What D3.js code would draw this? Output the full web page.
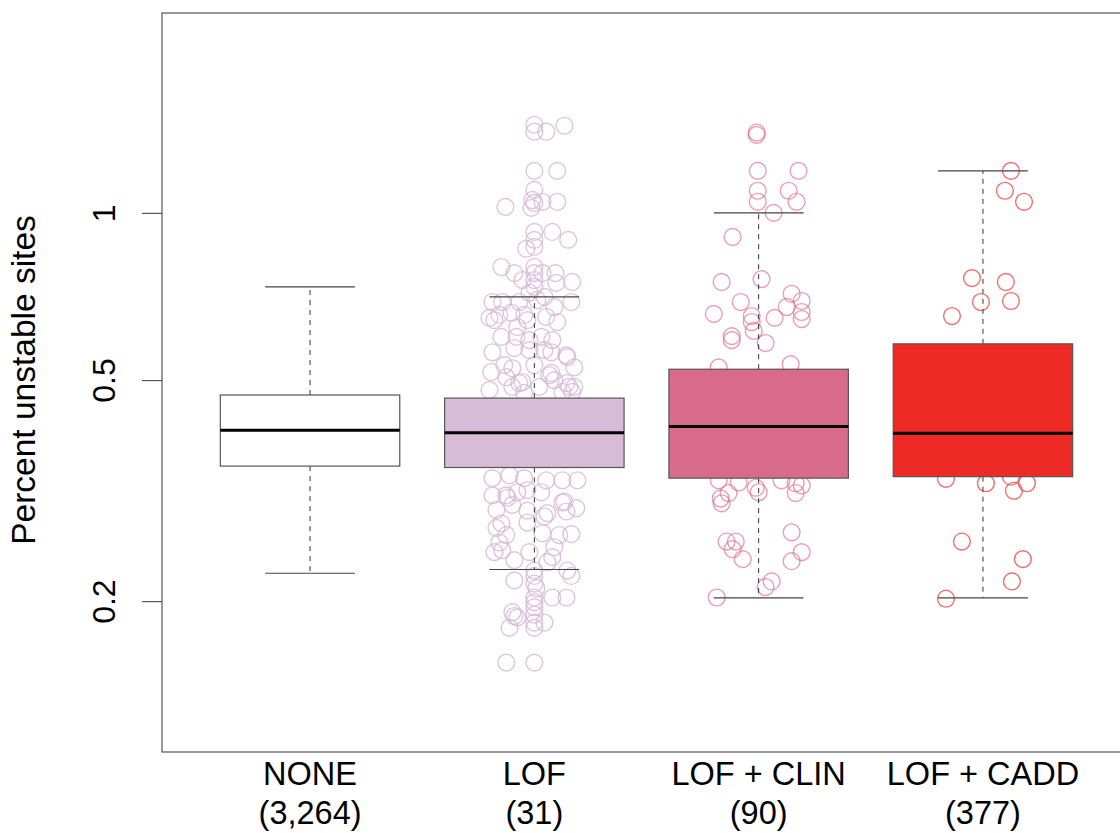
<!DOCTYPE html>
<html>
<head>
<meta charset="utf-8">
<script src="https://cdn.jsdelivr.net/npm/d3@7"></script>
<style>
  html, body { margin: 0; padding: 0; background: #fff; }
  svg { display: block; font-family: "Liberation Sans", Arial, Helvetica, sans-serif; }
</style>
</head>
<body>
<svg id="chart" width="1120" height="833"></svg>
<script>
// Groups and their sizes
const categories = ["NONE", "LOF", "LOF + CLIN", "LOF + CADD"];
const counts = ["(3,264)", "(31)", "(90)", "(377)"];

// Box summaries (percent unstable sites)
const whiskerLow  = [0.2245, 0.228, 0.2027, 0.2027];
const q1          = [0.350, 0.348, 0.333, 0.335];
const median      = [0.406, 0.402, 0.4126, 0.401];
const q3          = [0.470, 0.464, 0.523, 0.581];
const whiskerHigh = [0.736, 0.706, 1.0, 1.19];

// Y axis ticks and limits
const yTicks = [0.2, 0.5, 1];
const yLimits = [0.107, 2.29];

// Individual genes: [value, horizontal jitter in group units]
const lofPoints = [
  [1.441, 0], [1.400, 0], [1.400, 0.053], [1.435, 0.134],
  [1.190, 0], [1.190, 0.102], [1.100, 0],
  [1.025, -0.129], [1.021, -0.013], [1.042, 0], [1.047, 0.036], [1.047, 0.102], [1.055, -0.009],
  [0.924, 0], [0.924, 0.080], [0.894, 0.151], [0.894, 0], [0.862, -0.036], [0.869, 0],
  [0.799, -0.147], [0.779, -0.089], [0.799, 0], [0.779, 0], [0.779, 0.036], [0.779, 0.094],
  [0.757, -0.053], [0.757, 0], [0.748, 0.098], [0.751, 0.169], [0.736, 0], [0.718, -0.022],
  [0.691, -0.187], [0.691, -0.143], [0.691, -0.067], [0.697, 0.013], [0.706, 0.045], [0.691, 0.165],
  [0.677, 0.089], [0.647, -0.200], [0.655, -0.156], [0.661, -0.102], [0.655, -0.045], [0.650, 0.053],
  [0.636, 0.102], [0.641, -0.178], [0.623, -0.076], [0.641, -0.031],
  [0.598, -0.147], [0.598, -0.080], [0.590, -0.022], [0.590, 0.080], [0.598, 0.031],
  [0.561, -0.187], [0.571, -0.089], [0.566, -0.022], [0.566, 0.045], [0.561, 0.076], [0.550, 0.147],
  [0.532, 0], [0.532, -0.134], [0.525, -0.098], [0.517, -0.192], [0.527, 0.178],
  [0.506, -0.125], [0.496, -0.053], [0.510, 0.067], [0.500, 0.089], [0.494, 0.143], [0.486, 0.156],
  [0.486, 0.178], [0.480, -0.200], [0.486, -0.098], [0.486, 0.022], [0.476, 0.125], [0.476, 0.169],
  [0.474, -0.045], [0.554, 0.143], [0.515, 0.076], [0.494, -0.067],
  [0.333, -0.187], [0.337, -0.111], [0.333, -0.045], [0.330, 0.053], [0.330, 0.125], [0.330, 0.192],
  [0.310, -0.187], [0.310, -0.125], [0.314, -0.076], [0.317, -0.031], [0.314, 0.031],
  [0.292, -0.169], [0.298, -0.098], [0.291, -0.031], [0.284, 0.045], [0.288, 0.058], [0.302, 0.134],
  [0.294, 0.187], [0.290, 0.143], [0.307, -0.120], [0.271, -0.169], [0.301, 0.125],
  [0.276, -0.147], [0.263, -0.125], [0.277, -0.031], [0.265, 0.036], [0.263, 0.111], [0.264, 0.165],
  [0.255, -0.156], [0.245, -0.178], [0.247, -0.143], [0.237, -0.089], [0.245, -0.022], [0.250, 0.089],
  [0.240, 0.080], [0.235, 0.058],
  [0.227, 0], [0.222, 0], [0.218, -0.089], [0.215, 0], [0.227, 0.147], [0.222, 0.165], [0.211, 0.009],
  [0.203, 0], [0.203, 0.080], [0.203, 0.143], [0.199, 0], [0.195, 0], [0.189, 0], [0.183, 0],
  [0.191, -0.098], [0.187, -0.076], [0.179, -0.111], [0.183, 0.045], [0.179, 0], [0.188, -0.089],
  [0.155, -0.125], [0.155, 0]
];

const clinPoints = [
  [1.395, -0.009], [1.382, -0.009], [1.190, -0.004], [1.190, 0.178], [1.096, -0.004], [1.096, 0.134],
  [1.047, -0.004], [1.047, 0.169], [1.0, 0.067], [0.905, -0.116], [0.751, -0.165], [0.760, 0.013],
  [0.691, -0.080], [0.715, 0.147], [0.694, 0.192], [0.677, 0.125], [0.658, -0.200], [0.652, -0.031],
  [0.636, -0.031], [0.613, -0.022], [0.647, 0.071], [0.663, 0.192], [0.644, 0.192], [0.600, -0.120],
  [0.583, 0.031], [0.590, -0.120], [0.527, -0.178], [0.534, 0.143],
  [0.330, -0.178], [0.327, -0.089], [0.320, -0.013], [0.314, 0], [0.330, 0.102], [0.326, 0.165],
  [0.323, 0.192], [0.313, 0.165], [0.306, -0.169], [0.313, -0.134], [0.300, -0.165],
  [0.256, -0.143], [0.256, -0.102], [0.248, -0.116], [0.238, -0.071], [0.266, 0.147], [0.245, 0.192],
  [0.236, 0.147], [0.217, 0.058], [0.212, 0.031], [0.203, -0.187]
];

const caddPoints = [
  [1.190, 0.125], [1.096, 0.098], [1.047, 0.183], [0.763, -0.049], [0.751, 0.102], [0.691, -0.009],
  [0.694, 0.125], [0.652, -0.138], [0.332, -0.165], [0.326, 0.013], [0.335, 0.125], [0.326, 0.196],
  [0.316, 0.138], [0.256, -0.094], [0.238, 0.178], [0.217, 0.129], [0.202, -0.165]
];

const pointSets = [[], lofPoints, clinPoints, caddPoints];

// Styling
const boxFills = ["#ffffff", "#d8bbd7", "#d86b8b", "#ee2a27"];
const pointStrokes = ["none", "rgba(214,182,214,0.8)", "rgba(222,104,140,0.65)", "rgba(240,60,60,0.75)"];
const fontStack = "'Liberation Sans', Arial, Helvetica, sans-serif";

const svg = d3.select("#chart");
const plot = { left: 162, top: 13, bottom: 752, right: 1131 };

const x = d3.scaleLinear().domain([0.34, 4.66]).range([plot.left, plot.right]);
const y = d3.scaleLog().domain(yLimits).range([plot.bottom, plot.top]);

const unit = x(1) - x(0);
const boxHalf = 0.4 * unit;
const capHalf = 0.2 * unit;

// Jittered gene points, drawn beneath the boxes
pointSets.forEach((pts, i) => {
  svg.append("g")
    .selectAll("circle")
    .data(pts)
    .join("circle")
    .attr("cx", d => x(i + 1 + d[1]))
    .attr("cy", d => y(d[0]))
    .attr("r", 8.4)
    .attr("fill", "none")
    .attr("stroke", pointStrokes[i])
    .attr("stroke-width", 1.4);
});

// Boxes, whiskers and medians
const boxes = svg.append("g")
  .selectAll("g")
  .data(categories.map((c, i) => ({ c, i })))
  .join("g");

boxes.append("line")
  .attr("x1", d => x(d.i + 1)).attr("x2", d => x(d.i + 1))
  .attr("y1", d => y(q3[d.i])).attr("y2", d => y(whiskerHigh[d.i]))
  .attr("stroke", "#333").attr("stroke-width", 1).attr("stroke-dasharray", "5,5");
boxes.append("line")
  .attr("x1", d => x(d.i + 1)).attr("x2", d => x(d.i + 1))
  .attr("y1", d => y(q1[d.i])).attr("y2", d => y(whiskerLow[d.i]))
  .attr("stroke", "#333").attr("stroke-width", 1).attr("stroke-dasharray", "5,5");
boxes.append("line")
  .attr("x1", d => x(d.i + 1) - capHalf).attr("x2", d => x(d.i + 1) + capHalf)
  .attr("y1", d => y(whiskerHigh[d.i])).attr("y2", d => y(whiskerHigh[d.i]))
  .attr("stroke", "#444").attr("stroke-width", 1.2);
boxes.append("line")
  .attr("x1", d => x(d.i + 1) - capHalf).attr("x2", d => x(d.i + 1) + capHalf)
  .attr("y1", d => y(whiskerLow[d.i])).attr("y2", d => y(whiskerLow[d.i]))
  .attr("stroke", "#444").attr("stroke-width", 1.2);
boxes.append("rect")
  .attr("x", d => x(d.i + 1) - boxHalf)
  .attr("width", 2 * boxHalf)
  .attr("y", d => y(q3[d.i]))
  .attr("height", d => y(q1[d.i]) - y(q3[d.i]))
  .attr("fill", d => boxFills[d.i])
  .attr("stroke", "#555").attr("stroke-width", 1.2);
boxes.append("line")
  .attr("x1", d => x(d.i + 1) - boxHalf).attr("x2", d => x(d.i + 1) + boxHalf)
  .attr("y1", d => y(median[d.i])).attr("y2", d => y(median[d.i]))
  .attr("stroke", "#000").attr("stroke-width", 3);

// Plot frame
svg.append("rect")
  .attr("x", plot.left).attr("y", plot.top)
  .attr("width", plot.right - plot.left).attr("height", plot.bottom - plot.top)
  .attr("fill", "none").attr("stroke", "#555").attr("stroke-width", 1.2);

// Y axis with rotated tick labels
const yAxis = svg.append("g")
  .attr("transform", `translate(${plot.left},0)`)
  .call(d3.axisLeft(y).tickValues(yTicks).tickSize(20).tickFormat(d3.format("")));
yAxis.select(".domain").remove();
yAxis.selectAll(".tick line").attr("stroke", "#555").attr("stroke-width", 1.2);
yAxis.selectAll(".tick text")
  .attr("x", null).attr("dy", null)
  .attr("transform", "translate(-47,0) rotate(-90)")
  .attr("text-anchor", "middle")
  .attr("fill", "#000")
  .style("font-size", "32px")
  .style("font-family", fontStack);

svg.append("text")
  .attr("transform", `translate(35,380) rotate(-90)`)
  .attr("text-anchor", "middle")
  .style("font-size", "33.5px")
  .text("Percent unstable sites");

// Category labels with group sizes
const xl = svg.append("g").selectAll("g")
  .data(categories.map((c, i) => ({ c, i })))
  .join("g")
  .attr("transform", d => `translate(${x(d.i + 1)},0)`);
xl.append("text").attr("y", 785).attr("text-anchor", "middle")
  .style("font-size", "32.5px").text(d => d.c);
xl.append("text").attr("y", 824).attr("text-anchor", "middle")
  .style("font-size", "32.5px").text(d => counts[d.i]);
</script>
</body>
</html>
